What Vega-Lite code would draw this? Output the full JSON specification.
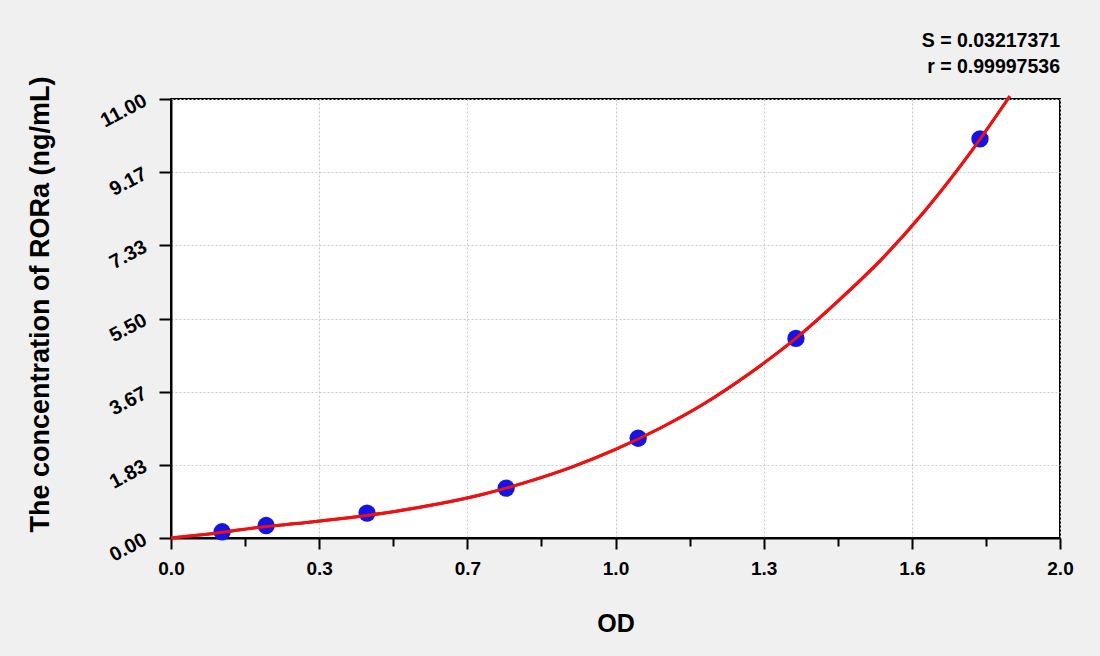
{
  "$schema": "https://vega.github.io/schema/vega-lite/v6.json",
  "description": "Standard curve for RORa: concentration vs OD",
  "autosize": "none",
  "width": 889,
  "height": 439,
  "padding": {"left": 171, "top": 99, "right": 40, "bottom": 118},
  "background": "#f0f0f0",
  "title": {
    "text": "S = 0.03217371",
    "subtitle": "r = 0.99997536",
    "anchor": "end",
    "frame": "group",
    "orient": "top",
    "font": "Liberation Sans",
    "fontSize": 19.5,
    "fontWeight": "bold",
    "color": "black",
    "subtitleFont": "Liberation Sans",
    "subtitleFontSize": 19.5,
    "subtitleFontWeight": "bold",
    "subtitleColor": "black",
    "subtitlePadding": 6,
    "offset": -1
  },
  "datasets": {
    "curve": [
      {"od": 0.0, "conc": 0.0},
      {"od": 0.1, "conc": 0.12},
      {"od": 0.2, "conc": 0.27},
      {"od": 0.3, "conc": 0.38},
      {"od": 0.4, "conc": 0.51},
      {"od": 0.5, "conc": 0.66},
      {"od": 0.6, "conc": 0.85},
      {"od": 0.7, "conc": 1.09},
      {"od": 0.8, "conc": 1.4},
      {"od": 0.9, "conc": 1.77},
      {"od": 1.0, "conc": 2.22},
      {"od": 1.1, "conc": 2.75},
      {"od": 1.2, "conc": 3.37},
      {"od": 1.3, "conc": 4.11},
      {"od": 1.4, "conc": 4.95},
      {"od": 1.5, "conc": 5.93},
      {"od": 1.6, "conc": 7.0},
      {"od": 1.7, "conc": 8.25},
      {"od": 1.8, "conc": 9.68},
      {"od": 1.887, "conc": 11.07}
    ],
    "standards": [
      {"od": 0.115, "conc": 0.156},
      {"od": 0.214, "conc": 0.313},
      {"od": 0.441, "conc": 0.625},
      {"od": 0.754, "conc": 1.25},
      {"od": 1.051, "conc": 2.5},
      {"od": 1.406, "conc": 5},
      {"od": 1.82, "conc": 10}
    ]
  },
  "layer": [
    {
      "data": {"name": "curve"},
      "mark": {"type": "line", "color": "#ee1111", "strokeWidth": 3, "interpolate": "monotone", "clip": false},
      "encoding": {
        "x": {
          "field": "od", "type": "quantitative",
          "scale": {"domain": [0, 2], "nice": false, "zero": false},
          "axis": {
            "title": "OD",
            "titleX": 444.5,
            "titleY": 85,
            "titleAlign": "center",
            "titleBaseline": "middle",
            "titleFontSize": 25,
            "values": [0, 0.083333, 0.166667, 0.25, 0.333333, 0.416667, 0.5, 0.583333, 0.666667, 0.75, 0.833333, 0.916667, 1, 1.083333, 1.166667, 1.25, 1.333333, 1.416667, 1.5, 1.583333, 1.666667, 1.75, 1.833333, 1.916667, 2],
            "labelExpr": "abs(datum.value*3-round(datum.value*3))<0.01 ? (abs(datum.value-1.666667)<0.01 ? '1.6' : format(datum.value,'.1f')) : ''",
            "labelOverlap": false,
            "labelFlush": false,
            "labelPadding": 10,
            "labelFontSize": 19,
            "tickSize": {"condition": {"test": "abs(datum.value*3-round(datum.value*3))<0.01", "value": 11}, "value": 8},
            "gridOpacity": {"condition": {"test": "abs(datum.value*3-round(datum.value*3))<0.01", "value": 1}, "value": 0}
          }
        },
        "y": {
          "field": "conc", "type": "quantitative",
          "scale": {"domain": [0, 11], "nice": false},
          "axis": {
            "title": "The concentration of RORa (ng/mL)",
            "titleX": -131,
            "titleY": 205,
            "titleAlign": "center",
            "titleBaseline": "middle",
            "titleFontSize": 27,
            "values": [0, 0.458333, 0.916667, 1.375, 1.833333, 2.291667, 2.75, 3.208333, 3.666667, 4.125, 4.583333, 5.041667, 5.5, 5.958333, 6.416667, 6.875, 7.333333, 7.791667, 8.25, 8.708333, 9.166667, 9.625, 10.083333, 10.541667, 11],
            "labelExpr": "abs(datum.value*6/11-round(datum.value*6/11))<0.01 ? format(datum.value,'.2f') : ''",
            "labelOverlap": false,
            "labelFlush": false,
            "labelAngle": -28,
            "labelAlign": "right",
            "labelBaseline": "middle",
            "labelPadding": 14,
            "labelFontSize": 20,
            "tickSize": {"condition": {"test": "abs(datum.value*6/11-round(datum.value*6/11))<0.01", "value": 12}, "value": 8},
            "gridOpacity": {"condition": {"test": "abs(datum.value*6/11-round(datum.value*6/11))<0.01", "value": 1}, "value": 0}
          }
        }
      }
    },
    {
      "data": {"name": "standards"},
      "mark": {"type": "circle", "color": "#1414e6", "size": 300, "opacity": 1},
      "encoding": {
        "x": {"field": "od", "type": "quantitative"},
        "y": {"field": "conc", "type": "quantitative"}
      }
    },
    {
      "data": {"name": "curve"},
      "mark": {"type": "line", "color": "#ee1111", "strokeWidth": 3, "interpolate": "monotone", "clip": false},
      "encoding": {
        "x": {"field": "od", "type": "quantitative"},
        "y": {"field": "conc", "type": "quantitative"}
      }
    }
  ],
  "config": {
    "view": {"fill": "white", "stroke": "black", "strokeWidth": 2},
    "axis": {
      "domainColor": "black",
      "domainWidth": 2,
      "tickColor": "black",
      "tickWidth": 2,
      "grid": true,
      "gridColor": "#c8c8c8",
      "gridDash": [2, 2],
      "gridWidth": 1,
      "labelFont": "Liberation Sans",
      "labelFontWeight": "bold",
      "labelColor": "black",
      "titleFont": "Liberation Sans",
      "titleFontWeight": "bold",
      "titleColor": "black"
    }
  }
}
